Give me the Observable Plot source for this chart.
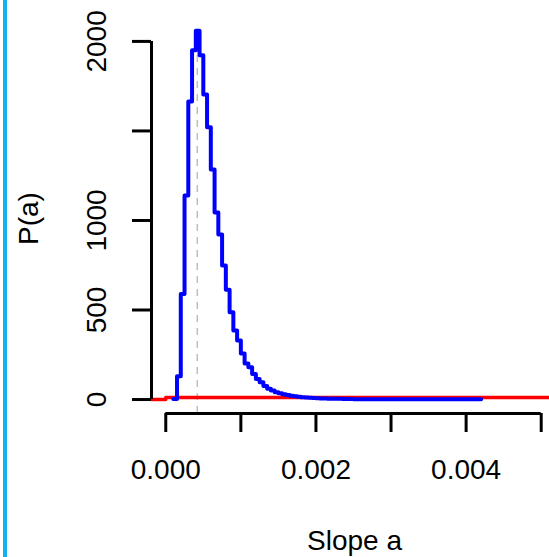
<!DOCTYPE html>
<html><head><meta charset="utf-8">
<script src="https://cdn.jsdelivr.net/npm/d3@7"></script>
<script src="https://cdn.jsdelivr.net/npm/@observablehq/plot@0.6"></script>
<style>
html,body{margin:0;padding:0;background:#fff;}
#wrap{position:relative;width:549px;height:557px;overflow:hidden;}
#bar{position:absolute;left:3px;top:0;width:4px;height:557px;background:#10b2ee;}
#chart{position:absolute;left:0;top:0;}
</style></head><body>
<div id="wrap"><div id="chart"></div><div id="bar"></div></div>
<script>
// Posterior histogram of slope a (bin left edges and heights)
const binStart = [
  0.00010,0.00015,0.00020,0.00025,0.00030,0.00035,0.00040,0.00045,0.00050,0.00055,
  0.00060,0.00065,0.00070,0.00075,0.00080,0.00085,0.00090,0.00095,0.00100,0.00105,
  0.00110,0.00115,0.00120,0.00125,0.00130,0.00135,0.00140,0.00145,0.00150,0.00155,
  0.00160,0.00165,0.00170,0.00175,0.00180,0.00185,0.00190,0.00195,0.00200,0.00205,
  0.00210,0.00215,0.00220,0.00225,0.00230,0.00235,0.00240,0.00245,0.00250,0.00255,
  0.00260,0.00265,0.00270,0.00275,0.00280,0.00285,0.00290,0.00295,0.00300,0.00305,
  0.00310,0.00315,0.00320,0.00325,0.00330,0.00335,0.00340,0.00345,0.00350,0.00355,
  0.00360,0.00365,0.00370,0.00375,0.00380,0.00385,0.00390,0.00395,0.00400,0.00405,
  0.00410,0.00415
];
const binEnd = 0.00420;
const posterior = [
  3,130,590,1140,1665,1950,2060,1922,1704,1520,
  1285,1045,922,749,613,488,385,330,257,201,
  180,143,115,97,75,60,50,41,35,30,
  25,21,18,15,13,11,10,8,7,6,
  6,5,5,4,4,3,3,3,2,2,
  2,2,2,1,1,1,1,1,1,1,
  1,1,1,1,1,1,1,1,1,1,
  1,1,1,1,1,1,1,1,1,1,
  1,1
];
// Prior (red)
const priorX = [-0.00019, 0.0000, 0.0056];
const priorY = [0, 11, 11];
// Mode marker (dashed)
const modeSlope = [0.00042];

// Axes
const xTicks = [0, 0.001, 0.002, 0.003, 0.004, 0.005];
const xLabelAt = [0, 0.002, 0.004];
const xLabels = ["0.000", "0.002", "0.004"];
const yTicks = [0, 500, 1000, 1500, 2000];
const yLabelAt = [0, 500, 1000, 2000];
const yLabels = ["0", "500", "1000", "2000"];
const xTitle = "Slope a";
const yTitle = "P(a)";

const xDomain = [-0.00019, 0.005217];
const yDomain = [-78, 2100];

const histData = binStart.map((x, i) => ({x, y: posterior[i]}))
  .concat([{x: binEnd, y: posterior[posterior.length - 1]}]);
const priorData = priorX.map((x, i) => ({x, y: priorY[i]}));
const xLab = xLabelAt.map((v, i) => ({v, t: xLabels[i]}));
const yLab = yLabelAt.map((v, i) => ({v, t: yLabels[i]}));

const FONT = "'Liberation Sans', Arial, Helvetica, sans-serif";
const chart = Plot.plot({
  width: 549, height: 557,
  marginLeft: 151, marginRight: 0, marginTop: 23, marginBottom: 144,
  style: {fontFamily: FONT, background: "transparent", color: "#000"},
  x: {domain: xDomain, range: [151, 557]},
  y: {domain: yDomain, range: [413, 23]},
  marks: [
    Plot.ruleX(modeSlope, {y1: yDomain[0], y2: d3.max(posterior), stroke: "#bebebe", strokeWidth: 1.5, strokeDasharray: "7,6"}),
    Plot.line(priorData, {x: "x", y: "y", curve: "step-after", stroke: "#ff0000", strokeWidth: 3.5}),
    Plot.line(histData, {x: "x", y: "y", curve: "step-after", stroke: "#0000ff", strokeWidth: 4}),
    // axis lines
    Plot.ruleX([xDomain[0]], {y1: yTicks[0], y2: yTicks[yTicks.length - 1], stroke: "#000", strokeWidth: 3}),
    Plot.ruleY([yDomain[0]], {x1: xTicks[0], x2: xTicks[xTicks.length - 1], stroke: "#000", strokeWidth: 3}),
    // ticks
    Plot.axisX(xTicks, {anchor: "bottom", tickSize: 19, strokeWidth: 3, fill: "none", label: null}),
    Plot.axisY(yTicks, {anchor: "left", tickSize: 19, strokeWidth: 3, fill: "none", label: null}),
    // tick labels
    Plot.text(xLab, {x: "v", text: "t", frameAnchor: "bottom", dy: 65, lineAnchor: "bottom", fontSize: 28, fill: "#000"}),
    Plot.text(yLab, {y: "v", text: "t", frameAnchor: "left", dx: -46, rotate: -90, textAnchor: "middle", lineAnchor: "bottom", fontSize: 28, fill: "#000"}),
    // titles
    Plot.text([xTitle], {frameAnchor: "bottom", dx: 4, dy: 136, lineAnchor: "bottom", fontSize: 28, fill: "#000"}),
    Plot.text([yTitle], {frameAnchor: "left", dx: -114, rotate: -90, textAnchor: "middle", lineAnchor: "bottom", fontSize: 28, fill: "#000"})
  ]
});
document.getElementById("chart").appendChild(chart);
</script>
</body></html>
